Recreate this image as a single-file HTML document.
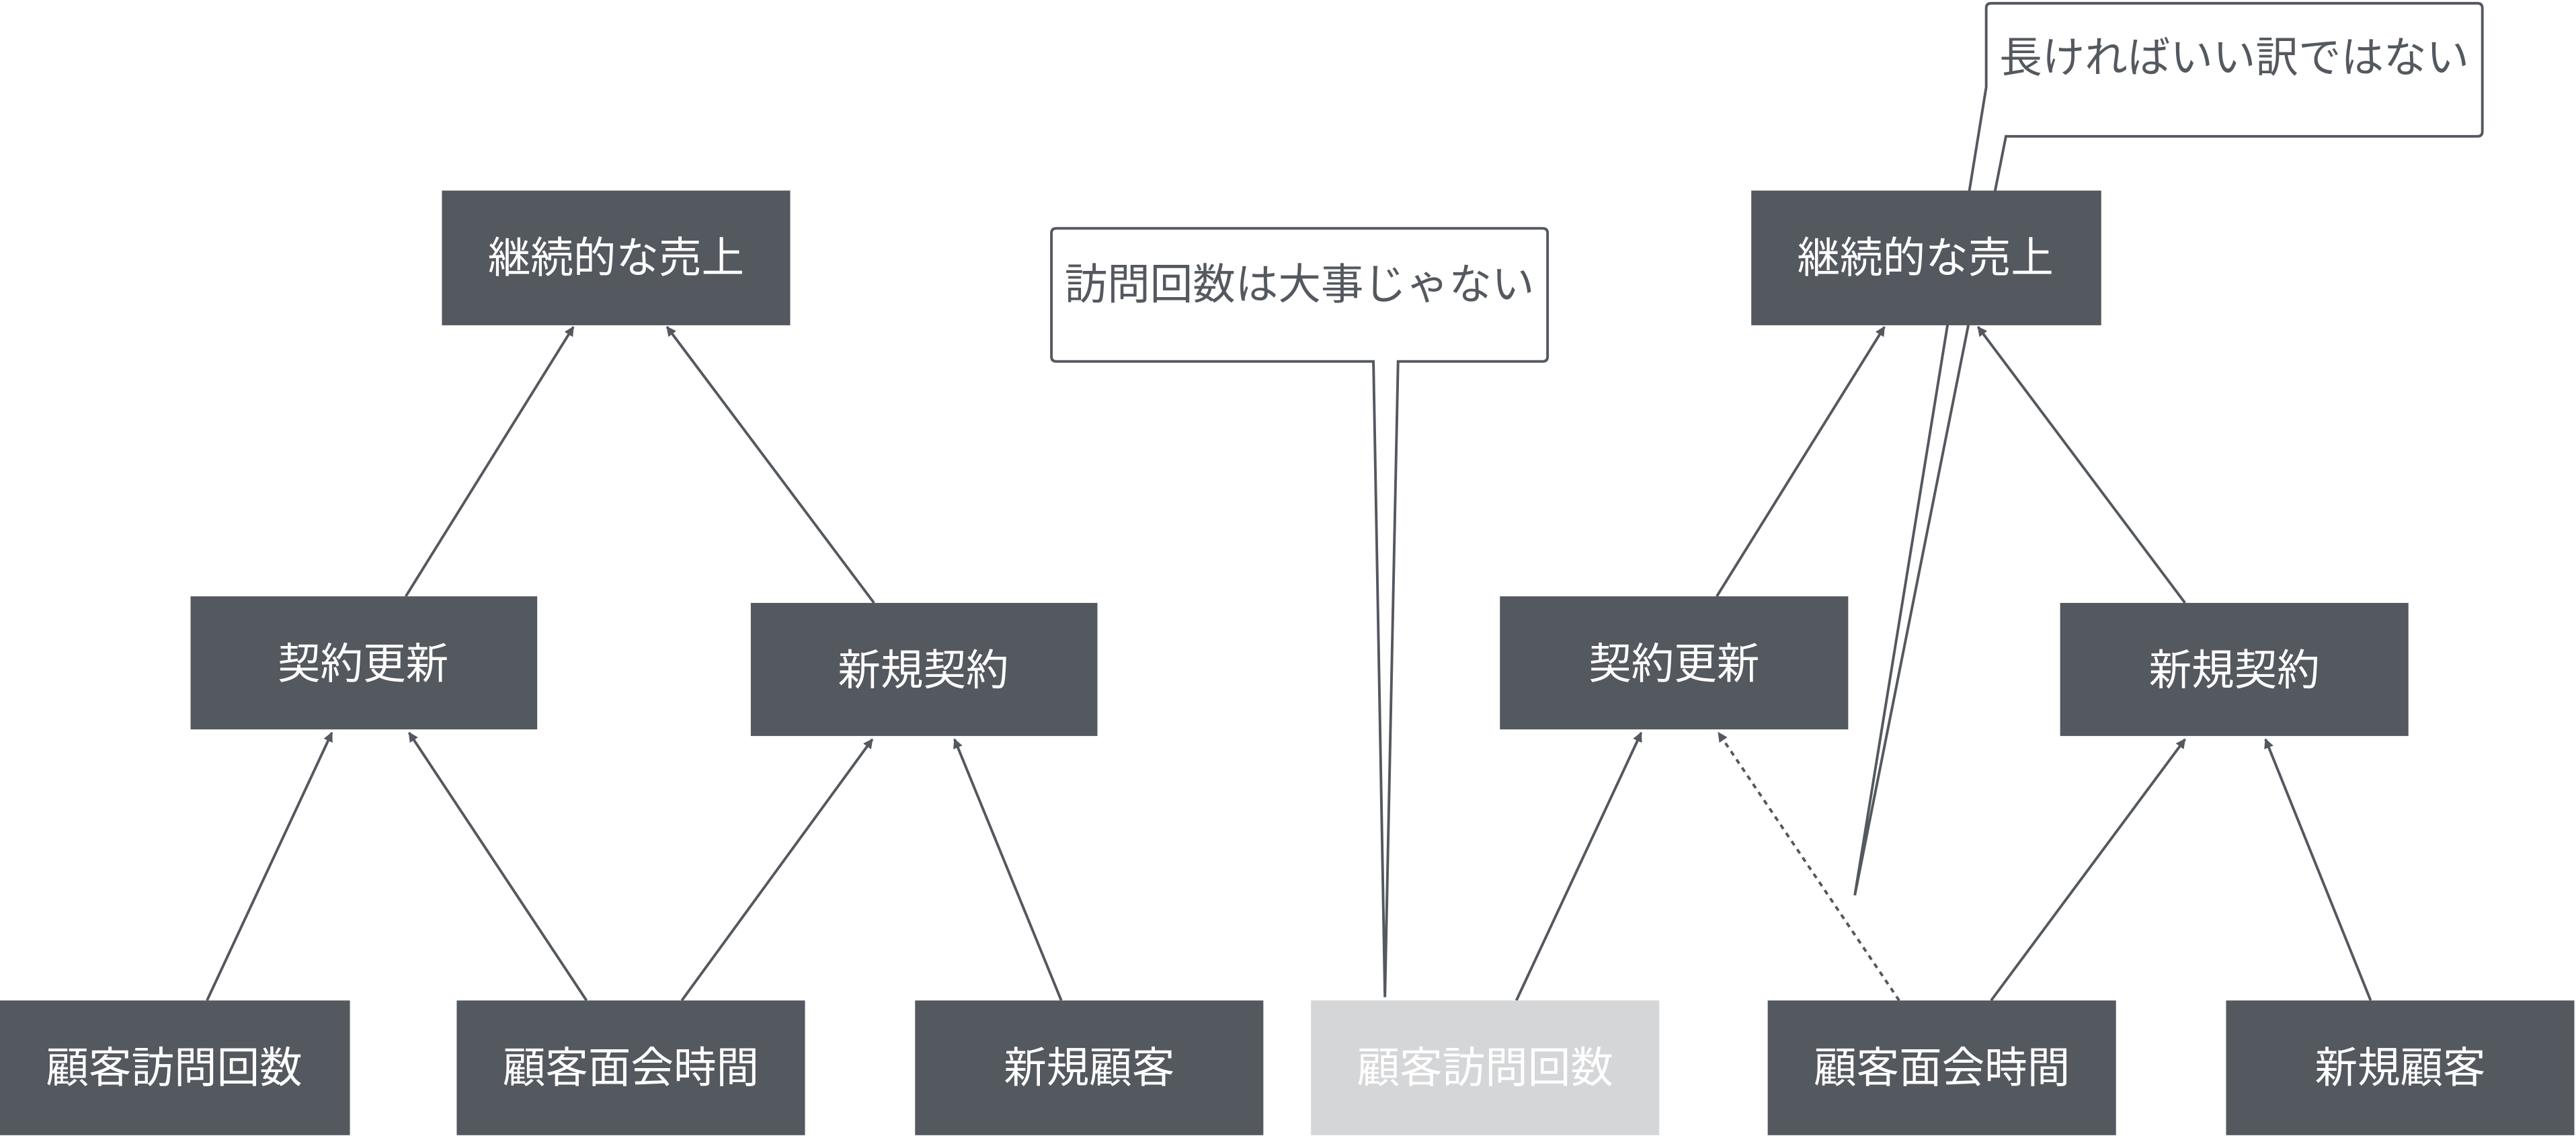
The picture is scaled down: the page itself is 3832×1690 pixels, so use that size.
<!DOCTYPE html>
<html><head><meta charset="utf-8"><style>
html,body{margin:0;padding:0;background:#fff;}
svg{display:block;}
text{font-family:"Liberation Sans","Noto Sans CJK JP",sans-serif;font-size:26px;}
</style></head><body>
<svg width="3832" height="1690" viewBox="0 0 1568 691.5" preserveAspectRatio="none" xmlns="http://www.w3.org/2000/svg">
<defs>
<marker id="a" viewBox="0 0 10 10" refX="9" refY="5" markerWidth="6" markerHeight="6" orient="auto" markerUnits="userSpaceOnUse"><path d="M0,0 L10,5 L0,10 z" fill="#54585f"/></marker>
</defs>
<path d="M1212,2 L1508,2 Q1511,2 1511,5 L1511,80 Q1511,83 1508,83 L1221,83 L1129,545 L1209,53 L1209,5 Q1209,2 1212,2 Z" fill="#fff" stroke="#54585f" stroke-width="1.6"/>
<text x="1360" y="44" fill="#54585f" text-anchor="middle">長ければいい訳ではない</text>
<g stroke="#54585f" stroke-width="1.6" fill="none" marker-end="url(#a)">
<line x1="247" y1="363" x2="349" y2="199"/>
<line x1="532" y1="367" x2="406" y2="199"/>
<line x1="126" y1="609" x2="202" y2="446"/>
<line x1="357" y1="609" x2="249" y2="446"/>
<line x1="415" y1="609" x2="531" y2="450"/>
<line x1="646" y1="609" x2="581" y2="450"/>
<line x1="1045" y1="363" x2="1147" y2="199"/>
<line x1="1330" y1="367" x2="1204" y2="199"/>
<line x1="923" y1="609" x2="999" y2="446"/>
<line x1="1156" y1="609" x2="1046" y2="446" stroke-dasharray="3,3"/>
<line x1="1212" y1="609" x2="1330" y2="450"/>
<line x1="1443" y1="609" x2="1379" y2="450"/>
</g>
<g fill="#54585f">
<rect x="269" y="116" width="212" height="82"/>
<rect x="116" y="363" width="211" height="81"/>
<rect x="457" y="367" width="211" height="81"/>
<rect x="0" y="609" width="213" height="82"/>
<rect x="278" y="609" width="212" height="82"/>
<rect x="557" y="609" width="212" height="82"/>
<rect x="1076" y="609" width="212" height="82"/>
<rect x="1355" y="609" width="212" height="82"/>
<rect x="913" y="363" width="212" height="81"/>
<rect x="1254" y="367" width="212" height="81"/>
<rect x="1066" y="116" width="213" height="82"/>
</g>
<rect x="798" y="609" width="212" height="82" fill="#d5d6d8"/>
<g fill="#fff" text-anchor="middle">
<text x="375" y="166">継続的な売上</text>
<text x="221" y="413">契約更新</text>
<text x="562" y="417">新規契約</text>
<text x="106" y="659">顧客訪問回数</text>
<text x="384" y="659">顧客面会時間</text>
<text x="663" y="659">新規顧客</text>
<text x="904" y="659">顧客訪問回数</text>
<text x="1182" y="659">顧客面会時間</text>
<text x="1461" y="659">新規顧客</text>
<text x="1019" y="413">契約更新</text>
<text x="1360" y="417">新規契約</text>
<text x="1172" y="166">継続的な売上</text>
</g>
<path d="M643,139 L939,139 Q942,139 942,142 L942,217 Q942,220 939,220 L851,220 L843,607 L836,220 L643,220 Q640,220 640,217 L640,142 Q640,139 643,139 Z" fill="#fff" stroke="#54585f" stroke-width="1.6"/>
<text x="791" y="182" fill="#54585f" text-anchor="middle">訪問回数は大事じゃない</text>
</svg>
</body></html>
